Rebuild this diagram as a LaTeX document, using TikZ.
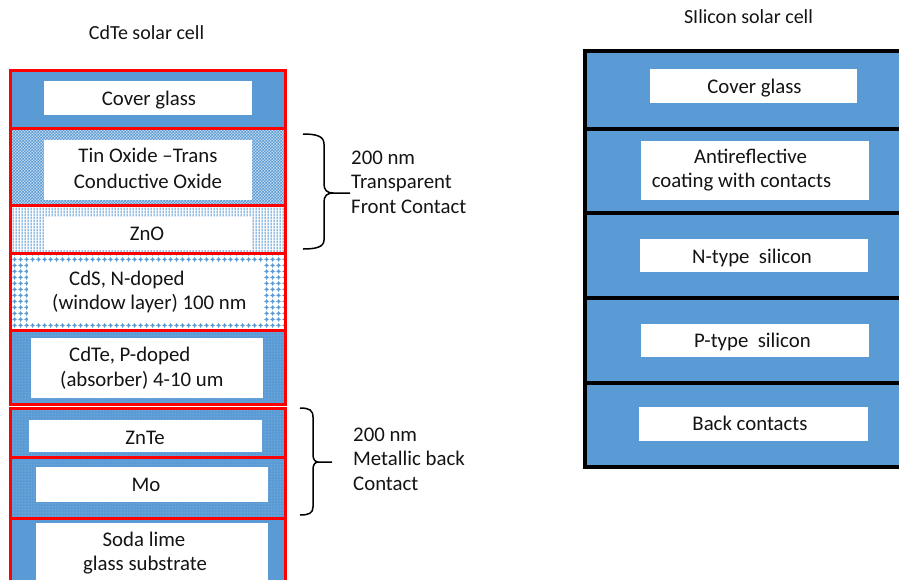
\documentclass[tikz,border=0pt]{standalone}
\usepackage{fontspec}
\setmainfont{Carlito}
\usetikzlibrary{patterns}
\definecolor{cellblue}{RGB}{91,155,213}
\definecolor{cellred}{RGB}{255,0,0}
\definecolor{txtcol}{RGB}{20,20,20}

\pgfdeclarepatternformonly{fchecker}{\pgfpointorigin}{\pgfqpoint{3.4pt}{3.4pt}}{\pgfqpoint{3.4pt}{3.4pt}}{%
  \pgfpathrectangle{\pgfpointorigin}{\pgfqpoint{1.7pt}{1.7pt}}%
  \pgfpathrectangle{\pgfqpoint{1.7pt}{1.7pt}}{\pgfqpoint{1.7pt}{1.7pt}}%
  \pgfusepath{fill}}
\pgfdeclarepatternformonly{fvlines}{\pgfpointorigin}{\pgfqpoint{3pt}{3pt}}{\pgfqpoint{3pt}{3pt}}{%
  \pgfpathrectangle{\pgfqpoint{0.9pt}{0pt}}{\pgfqpoint{1.2pt}{3pt}}%
  \pgfusepath{fill}}
\pgfdeclarepatternformonly{fbigdots}{\pgfpointorigin}{\pgfqpoint{6pt}{6pt}}{\pgfqpoint{6pt}{6pt}}{%
  \pgfpathmoveto{\pgfqpoint{3pt}{0.8pt}}\pgfpathlineto{\pgfqpoint{5.2pt}{3pt}}%
  \pgfpathlineto{\pgfqpoint{3pt}{5.2pt}}\pgfpathlineto{\pgfqpoint{0.8pt}{3pt}}\pgfpathclose
  \pgfpathrectangle{\pgfqpoint{0pt}{2.7pt}}{\pgfqpoint{6pt}{0.6pt}}%
  \pgfpathrectangle{\pgfqpoint{2.7pt}{0pt}}{\pgfqpoint{0.6pt}{6pt}}%
  \pgfusepath{fill}}
\pgfdeclarepatternformonly{ffinedots}{\pgfpointorigin}{\pgfqpoint{3pt}{3pt}}{\pgfqpoint{3pt}{3pt}}{%
  \pgfpathcircle{\pgfqpoint{1.5pt}{1.5pt}}{0.55pt}%
  \pgfusepath{fill}}

\tikzset{
  redframe/.style={draw=cellred, line width=3pt},
  solidlayer/.style={redframe, fill=cellblue},
  checklayer/.style={redframe, preaction={fill=cellblue!40}, pattern=fchecker, pattern color=cellblue},
  vlinelayer/.style={redframe, preaction={fill=white}, pattern=fvlines, pattern color=cellblue},
  bigdotlayer/.style={redframe, preaction={fill=white}, pattern=fbigdots, pattern color=cellblue},
  finedotlayer/.style={redframe, preaction={fill=cellblue}, pattern=ffinedots, pattern color=white!55!cellblue},
  silayer/.style={draw=black, line width=4pt, fill=cellblue},
  wbox/.style={draw=none, fill=white, inner sep=0pt, outer sep=0pt},
  txt/.style={font=\fontsize{20.8}{25}\selectfont, text=txtcol, inner sep=0pt, anchor=base},
  ltxt/.style={txt, anchor=base west},
  ttl/.style={font=\fontsize{20}{24}\selectfont, text=txtcol, inner sep=0pt, anchor=base},
  bracepen/.style={draw=black, line width=1.5pt}
}

\begin{document}
\begin{tikzpicture}[x=1pt,y=-1pt]
\useasboundingbox (0,0) rectangle (899,579);
\clip (0,0) rectangle (899,579);
\fill[white] (0,0) rectangle (899,579);

% titles
\node[ttl] (ttlcdte) at (146.5,39) {CdTe solar cell};
\node[ttl] (ttlsi) at (748.5,23) {SIlicon solar cell};

% ---------- CdTe stack ----------
\draw[solidlayer]   (10,70)  rectangle (285,128);
\draw[checklayer]   (10,128) rectangle (285,205);
\draw[vlinelayer]   (10,205) rectangle (285,253);
\draw[bigdotlayer]  (10,253) rectangle (285,330);
\draw[finedotlayer] (10,330) rectangle (285,404);
\draw[finedotlayer] (10,408) rectangle (285,457);
\draw[finedotlayer] (10,457) rectangle (285,518);
\draw[solidlayer]   (10,518) rectangle (285,590);

\node[wbox, minimum width=208pt, minimum height=34pt] (bcg) at (148,98) {};
\node[wbox, minimum width=208pt, minimum height=60pt] (bto) at (148,170) {};
\node[wbox, minimum width=207pt, minimum height=33pt] (bzno) at (147.5,233.5) {};
\node[wbox, minimum width=235pt, minimum height=60pt] (bcds) at (145.5,293) {};
\node[wbox, minimum width=232pt, minimum height=60pt] (bcdte) at (147,368) {};
\node[wbox, minimum width=233pt, minimum height=32pt] (bznte) at (145.5,436) {};
\node[wbox, minimum width=232pt, minimum height=35pt] (bmo) at (152,484.5) {};
\node[wbox, minimum width=232pt, minimum height=70pt] (bsl) at (152,558) {};

\node[txt] (tcg) at (149,105) {Cover glass};
\node[txt] (ttoa) at (148,162) {Tin Oxide –Trans};
\node[txt] (ttob) at (148,188) {Conductive Oxide};
\node[txt] (tzno) at (147,240) {ZnO};
\node[ltxt] (tcdsa) at (69,285) {CdS, N-doped};
\node[ltxt] (tcdsb) at (52,309) {(window layer) 100 nm};
\node[ltxt] (tcdtea) at (69,361) {CdTe, P-doped};
\node[ltxt] (tcdteb) at (60,386) {(absorber) 4-10 um};
\node[txt] (tznte) at (145,444) {ZnTe};
\node[txt] (tmo) at (146,491) {Mo};
\node[txt] (tsla) at (144,546) {Soda lime};
\node[txt] (tslb) at (145,570) {glass substrate};

% braces
\draw[bracepen] (303,134) .. controls (316,134) and (324,136) .. (324,144) -- (324,184)
  .. controls (324,190) and (327,193) .. (333,193) -- (350,193);
\draw[bracepen] (333,193) .. controls (327,193) and (324,196) .. (324,202) -- (324,240)
  .. controls (324,247) and (316,249) .. (303,249);
\draw[bracepen] (300,408) .. controls (309,408) and (313,410) .. (313,417) -- (313,455)
  .. controls (313,459) and (315,462) .. (318,462) -- (332,462);
\draw[bracepen] (318,462) .. controls (315,462) and (313,465) .. (313,469) -- (313,507)
  .. controls (313,513) and (309,515) .. (300,515);

\node[ltxt] (f1) at (351,164) {200 nm};
\node[ltxt] (f2) at (351,188.5) {Transparent};
\node[ltxt] (f3) at (351,213) {Front Contact};
\node[ltxt] (m1) at (353,441) {200 nm};
\node[ltxt] (m2) at (353,465) {Metallic back};
\node[ltxt] (m3) at (353,490) {Contact};

% ---------- Silicon stack ----------
\draw[silayer] (585,51)  rectangle (910,129);
\draw[silayer] (585,129) rectangle (910,213);
\draw[silayer] (585,213) rectangle (910,298);
\draw[silayer] (585,298) rectangle (910,383);
\draw[silayer] (585,383) rectangle (910,467);

\node[wbox, minimum width=207pt, minimum height=34pt] (scg) at (753.5,86) {};
\node[wbox, minimum width=228pt, minimum height=59pt] (sar) at (755,170.5) {};
\node[wbox, minimum width=228pt, minimum height=33pt] (sn) at (754,255.5) {};
\node[wbox, minimum width=228pt, minimum height=33pt] (sp) at (755,340.5) {};
\node[wbox, minimum width=229pt, minimum height=34pt] (sbc) at (753.5,424) {};

\node[txt] (tscg) at (754.5,93) {Cover glass};
\node[txt] (tsara) at (750.5,163) {Antireflective};
\node[txt] (tsarb) at (741.5,187) {coating with contacts};
\node[txt] (tsn) at (752,263) {N-type~~silicon};
\node[txt] (tsp) at (752.5,347) {P-type~~silicon};
\node[txt] (tsbc) at (750,430) {Back contacts};
\end{tikzpicture}
\end{document}
